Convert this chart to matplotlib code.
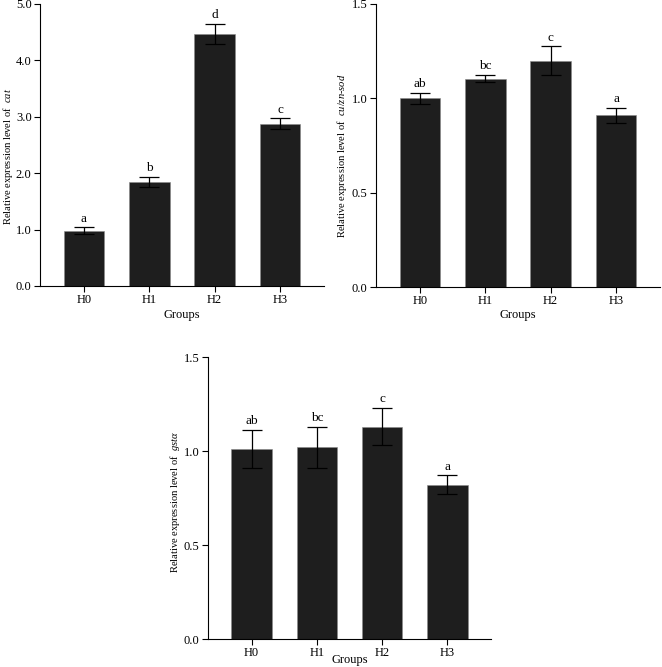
import matplotlib
matplotlib.use("Agg")
import matplotlib.pyplot as plt

plt.rcParams['font.family'] = 'Liberation Serif'
plt.rcParams['mathtext.fontset'] = 'custom'
plt.rcParams['mathtext.it'] = 'Liberation Serif:italic'
plt.rcParams['mathtext.rm'] = 'Liberation Serif'

groups = ["H0", "H1", "H2", "H3"]

cat_mean = [0.98, 1.84, 4.47, 2.88]
cat_err = [0.06, 0.09, 0.18, 0.09]
cat_sig = ["a", "b", "d", "c"]

sod_mean = [1.00, 1.105, 1.20, 0.91]
sod_err = [0.03, 0.02, 0.075, 0.04]
sod_sig = ["ab", "bc", "c", "a"]

gst_mean = [1.01, 1.02, 1.13, 0.82]
gst_err = [0.10, 0.11, 0.10, 0.05]
gst_sig = ["ab", "bc", "c", "a"]

W, H = 662, 667
fig = plt.figure(figsize=(W / 100, H / 100), dpi=100)


def px_axes(l, t, r, b):
    return fig.add_axes([l / W, 1 - b / H, (r - l) / W, (b - t) / H])


def panel(ax, mean, err, sig, ymax, ticks, gene, ylab_xy, xlab_y, off):
    x = range(len(groups))
    ax.bar(x, mean, width=0.62, color='#1e1e1e', edgecolor='#8a8a8a', linewidth=0.4, zorder=2)
    ax.errorbar(x, mean, yerr=err, fmt='none', ecolor='black', elinewidth=0.9,
                capsize=7.5, capthick=0.9, zorder=3)
    for i in x:
        ax.text(i, mean[i] + err[i] + off, sig[i], ha='center', va='bottom', fontsize=9.5)
    ax.set_xlim(-0.67, 3.67)
    ax.set_ylim(0, ymax)
    ax.set_yticks(ticks)
    ax.set_yticklabels(["%.1f" % t for t in ticks])
    ax.set_xticks(list(x))
    ax.set_xticklabels(groups)
    ax.spines['top'].set_visible(False)
    ax.spines['right'].set_visible(False)
    ax.spines['left'].set_linewidth(0.8)
    ax.spines['bottom'].set_linewidth(0.8)
    ax.tick_params(direction='out', length=4, width=0.8, labelsize=9, pad=2)
    ax.set_xlabel("Groups", fontsize=9, va='center')
    ax.xaxis.set_label_coords(0.5, xlab_y)
    ax.set_ylabel("Relative expression level of  " + gene, fontsize=7.6, va='center')
    ax.yaxis.set_label_coords(*ylab_xy)


ax1 = px_axes(40, 4, 324, 286)
panel(ax1, cat_mean, cat_err, cat_sig, 5.0, [0, 1, 2, 3, 4, 5],
      r"$\it{cat}$", (-0.112, 0.46), -0.103, 0.05)

ax2 = px_axes(376, 4, 660, 287)
panel(ax2, sod_mean, sod_err, sod_sig, 1.5, [0, 0.5, 1.0, 1.5],
      r"$\it{cu/zn}$-$\it{sod}$", (-0.12, 0.463), -0.099, 0.015)

ax3 = px_axes(208, 357, 491, 639)
panel(ax3, gst_mean, gst_err, gst_sig, 1.5, [0, 0.5, 1.0, 1.5],
      r"$\it{gst\alpha}$", (-0.115, 0.486), -0.075, 0.015)

fig.savefig("out.png", dpi=100)
